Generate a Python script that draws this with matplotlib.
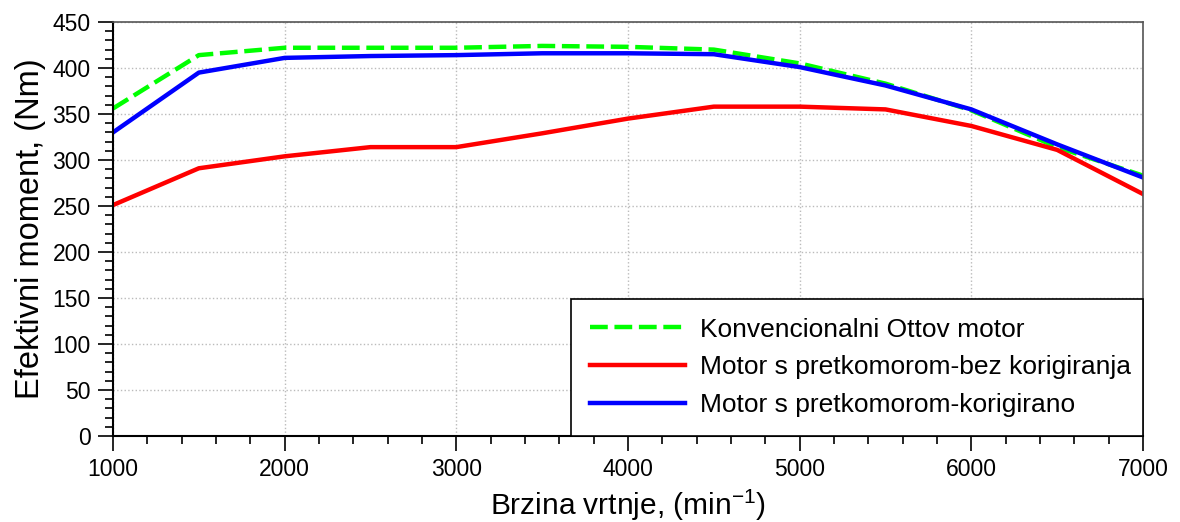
import matplotlib.pyplot as plt
from matplotlib.ticker import MultipleLocator

rpm = [1000, 1500, 2000, 2500, 3000, 3500, 4000, 4500, 5000, 5500, 6000, 6500, 7000]
otto = [356, 414, 422, 422, 422, 424, 423, 420, 405, 383, 354, 314, 283]
bez_korigiranja = [251, 291, 304, 314, 314, 329, 345, 358, 358, 355, 337, 311, 263]
korigirano = [330, 395, 411, 413, 414, 416, 416, 415, 401, 381, 355, 317, 281]

labels = [
    "Konvencionalni Ottov motor",
    "Motor s pretkomorom-bez korigiranja",
    "Motor s pretkomorom-korigirano",
]


def main() -> None:
    plt.rcParams["font.family"] = ["Liberation Sans", "DejaVu Sans"]

    fig = plt.figure(figsize=(11.8, 5.22), dpi=100)
    ax = fig.add_axes([113 / 1180, 1 - 436 / 522, 1030 / 1180, 414 / 522])

    ax.plot(rpm, otto, color="#00ff00", linestyle=(0, (4, 1.5)), linewidth=3.2, label=labels[0])
    ax.plot(rpm, bez_korigiranja, color="#ff0000", linewidth=3.2, label=labels[1])
    ax.plot(rpm, korigirano, color="#0000ff", linewidth=3.2, label=labels[2])

    ax.set_xlim(1000, 7000)
    ax.set_ylim(0, 450)
    ax.xaxis.set_major_locator(MultipleLocator(1000))
    ax.xaxis.set_minor_locator(MultipleLocator(200))
    ax.yaxis.set_major_locator(MultipleLocator(50))
    ax.yaxis.set_minor_locator(MultipleLocator(10))
    ax.tick_params(which="major", direction="out", length=11, width=1.2, labelsize=16.5, pad=5)
    ax.tick_params(which="minor", direction="out", length=6, width=1.2)
    ax.tick_params(axis="x", which="major", pad=5)

    ax.grid(True, which="major", linestyle=":", color="#bbbbbb", linewidth=1)
    for side in ("left", "bottom"):
        ax.spines[side].set_linewidth(1.5)
    for side in ("top", "right"):
        ax.spines[side].set_color("#555555")
        ax.spines[side].set_linewidth(1.2)

    ax.set_xlabel("Brzina vrtnje, (min$^{\\mathregular{-1}}$)", fontsize=21.5, labelpad=4)
    ax.set_ylabel("Efektivni moment, (Nm)", fontsize=23.5, labelpad=5)

    leg = ax.legend(
        loc="lower left",
        bbox_to_anchor=(458 / 1030, 0, 572 / 1030, 1),
        mode="expand",
        borderaxespad=0,
        fontsize=19,
        handlelength=3.6,
        handletextpad=0.55,
        labelspacing=0.52,
        borderpad=0.72,
        fancybox=False,
        frameon=True,
    )
    leg.get_frame().set_edgecolor("black")
    leg.get_frame().set_linewidth(1.2)
    leg.get_frame().set_alpha(1)

    fig.savefig("out.png", dpi=100)


if __name__ == "__main__":
    main()
